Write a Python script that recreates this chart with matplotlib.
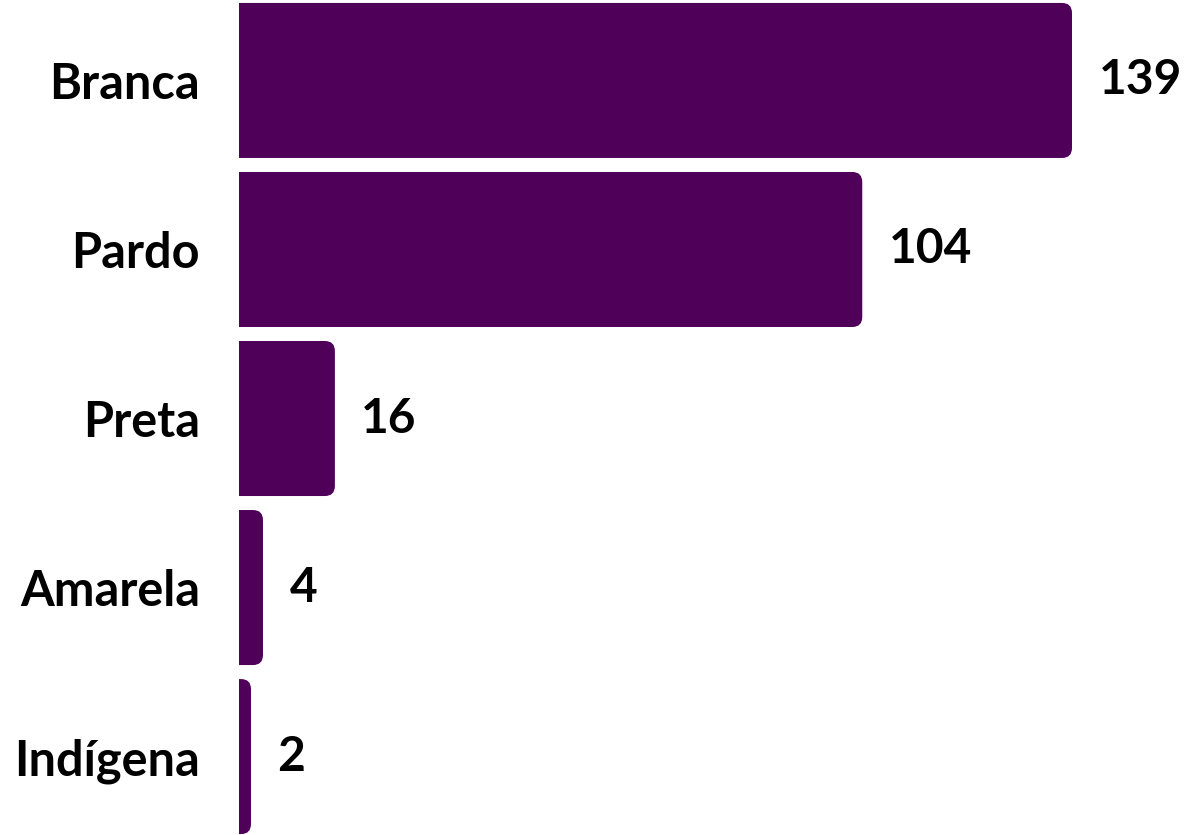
import matplotlib
matplotlib.use("Agg")
import matplotlib.pyplot as plt
from matplotlib.patches import FancyBboxPatch

categories = ["Branca", "Pardo", "Preta", "Amarela", "Indígena"]
values = [139, 104, 16, 4, 2]

BAR_COLOR = "#4F0059"
FONT = ["Lato", "DejaVu Sans"]

fig = plt.figure(figsize=(11.85, 8.35), dpi=100)
W, H = 1185, 835
ax = fig.add_axes([239 / W, 0, 1 - 239 / W, 1])

px_per_unit = (1072 - 239) / 139.0
ax.set_xlim(0, (W - 239) / px_per_unit)
ax.set_ylim(4.464, -0.476)

ypos = list(range(len(categories)))
bars = ax.barh(ypos, values, height=155 / 169, color=BAR_COLOR)

fig.canvas.draw()
xpu = (ax.get_xlim()[1] - ax.get_xlim()[0]) / ax.bbox.width
ypu = abs(ax.get_ylim()[1] - ax.get_ylim()[0]) / ax.bbox.height
r_px = 10
ext = 20
for b in list(bars):
    x0, y0 = b.get_x(), b.get_y()
    w, h = b.get_width(), b.get_height()
    b.set_visible(False)
    p = FancyBboxPatch((x0 - ext, y0), w + ext, h,
                       boxstyle=f"round,pad=0,rounding_size={r_px * xpu}",
                       mutation_aspect=ypu / xpu,
                       facecolor=BAR_COLOR, edgecolor="none", clip_on=True)
    ax.add_patch(p)

for y, v in zip(ypos, values):
    ax.annotate(str(v), xy=(v, y), xytext=(19, 0), textcoords="offset points",
                ha="left", va="center", fontsize=34.5, fontweight="bold",
                family=FONT, color="black")

ax.set_yticks(ypos)
ax.set_yticklabels(categories, fontsize=35, fontweight="bold", family=FONT)
ax.tick_params(axis="y", length=0, pad=28)
ax.set_xticks([])
for s in ax.spines.values():
    s.set_visible(False)

fig.savefig("out.png", dpi=100)
